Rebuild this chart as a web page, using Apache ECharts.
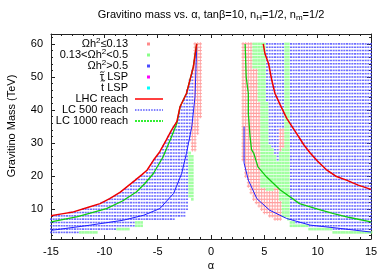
<!DOCTYPE html>
<html><head><meta charset="utf-8">
<script src="https://cdn.jsdelivr.net/npm/echarts@6/dist/echarts.min.js"></script>
<style>html,body{margin:0;padding:0;background:#fff}#c{width:389px;height:273px}</style>
</head><body><div id="c"></div>
<script>
// ---- data ----
// Scan columns: [alpha, mLow, mHigh] (grid cells at 1 TeV steps)
const blueLeft = [[-15,3,7],[-14.75,3,8],[-14.5,3,8],[-14.25,3,8],[-14,3,8],[-13.75,3,8],[-13.5,3,8],[-13.25,3,9],[-13,3,9],[-12.75,3,9],[-12.5,3,9],[-12.25,4,9],[-12,4,10],[-11.75,4,10],[-11.5,4,10],[-11.25,4,10],[-11,4,11],[-10.75,4,11],[-10.5,4,11],[-10.25,4,12],[-10,4,12],[-9.75,4,12],[-9.5,4,13],[-9.25,4,13],[-9,4,14],[-8.75,5,14],[-8.5,5,15],[-8.25,5,15],[-8,5,16],[-7.75,5,16],[-7.5,5,17],[-7.25,5,18],[-7,7,19],[-6.75,7,19],[-6.5,7,20],[-6.25,7,20],[-6,7,21],[-5.75,7,22],[-5.5,7,24],[-5.25,7,25],[-5,7,26],[-4.75,7,27],[-4.5,7,29],[-4.25,7,30],[-4,7,32],[-3.75,7,33],[-3.5,7,35],[-3.25,8,36],[-3,8,39],[-2.75,8,41],[-2.5,8,43],[-2.25,10,46],[-2,31,49],[-1.75,37,52]];
const greenLeft = [[-12.25,3,3],[-12,3,3],[-11.75,3,3],[-11.5,3,3],[-11.25,3,3],[-11,3,3],[-10.75,3,3],[-8.75,4,4],[-8.5,4,4],[-8.25,4,4],[-8,4,4],[-7.75,4,4],[-7,5,6],[-6.75,5,6],[-6.5,5,6],[-2,14,27],[-1.75,13,26]];
const redLeft = [[-1.75,28,36],[-1.5,28,60],[-1.25,33,60],[-1,38,60]];
const redRight = [[3,25,60],[3.25,20,60],[3.5,17,60],[3.75,15,60],[4,13,52],[4.25,12,52],[4.5,11,42],[4.75,10,16],[5,9,16],[5.25,9,15],[5.5,8,15],[5.75,8,15],[6,7,16],[6.25,7,16],[6.5,7,12],[6.5,28,34],[6.75,29,34]];
const greenRight = [[4,53,60],[4.25,53,60],[4.5,43,60],[4.75,17,60],[5,17,60],[5.25,16,42],[5.5,16,29],[5.75,16,28],[6,17,26],[6.25,17,24],[6.5,13,27],[6.75,8,28],[7,8,60],[7.25,7,60],[7.5,5,6],[7.75,5,6],[8,5,5],[8.25,5,5],[8.5,5,5],[8.75,5,5],[9,5,5],[9.25,4,4],[9.5,4,4],[9.75,4,4],[10,4,4],[10.25,4,4],[10.5,4,4],[10.75,4,4],[11,4,4],[11.25,4,4],[11.5,3,3],[11.75,3,3],[12,3,3],[12.25,3,3],[12.5,3,3],[12.75,3,3],[13,3,3],[13.25,3,3],[13.5,3,3],[13.75,3,3],[14,3,3],[14.25,3,3],[14.5,3,3],[14.75,3,3],[15,3,3]];
const blueRight = [[5.25,43,60],[5.5,30,60],[5.75,29,60],[6,27,60],[6.25,25,60],[6.5,35,60],[6.75,35,60],[7.5,7,60],[7.75,7,60],[8,6,60],[8.25,6,60],[8.5,6,60],[8.75,6,60],[9,6,60],[9.25,5,60],[9.5,5,60],[9.75,5,60],[10,5,60],[10.25,5,60],[10.5,5,60],[10.75,5,60],[11,5,60],[11.25,5,60],[11.5,4,60],[11.75,4,60],[12,4,60],[12.25,4,60],[12.5,4,60],[12.75,4,60],[13,4,60],[13.25,4,60],[13.5,4,60],[13.75,4,60],[14,4,60],[14.25,4,60],[14.5,4,60],[14.75,4,60],[15,4,60]];

// Reach curves: [alpha, m]
const lhcLeft = [[-15,8],[-14,8.6],[-12.9,9.2],[-11.5,10.6],[-10.4,11.7],[-9.5,13.2],[-8.5,15.2],[-7.8,17],[-7.1,18.8],[-6.5,20.4],[-6,21.8],[-5.4,24.8],[-4.8,27.4],[-4.2,30.9],[-3.7,33.9],[-3.2,36.5],[-2.9,41],[-2.3,45],[-1.66,53],[-1.34,60]];
const lc1000Left = [[-15,6.2],[-12.5,7.8],[-9.8,10.2],[-8.3,12.5],[-7,15.2],[-6.2,17.8],[-5.4,20.8],[-4.5,25.8],[-3.7,31.9],[-3.2,36],[-2.9,41],[-2.3,45],[-1.66,53],[-1.34,60]];
const lc500Left = [[-15,3.6],[-11.3,5.2],[-8.2,6.7],[-6.3,8.2],[-4.8,10.2],[-3.5,14.8],[-2.75,20.8],[-2.3,26.9],[-1.8,35],[-1.5,44],[-1.34,59]];
const lhcRight = [[4.9,60],[5.06,57],[5.4,54],[5.7,49],[6,45],[6.5,41.5],[7.1,37.5],[8,33],[8.7,29.5],[9.3,27],[10,24.5],[10.8,22],[11.7,20],[12.7,18.8],[13.8,17.3],[15,16]];
const lc1000Right = [[3.2,60],[3.3,50],[3.5,45],[3.5,39],[3.66,32],[3.8,28],[4,27],[4.4,22.8],[5.2,19.8],[6.5,15.8],[8.3,11.7],[10,10],[11.5,8.7],[13,7.5],[15,6.2]];
const lc500Right = [[3.1,35],[3.1,24],[3.5,18.8],[4.3,13.2],[5.5,9.7],[7.1,7.2],[9.3,5.2],[12.1,4.2],[15,3.1]];

const xTicks = [-15,-10,-5,0,5,10,15];
const yTicks = [10,20,30,40,50,60];
const yMinorTicks = [2,4,6,8,12,14,16,18,22,24,26,28,32,34,36,38,42,44,46,48,52,54,56,58,62];
const legendLabels = ['Ωh{sup|2}≤0.13','0.13<Ωh{sup|2}<0.5','Ωh{sup|2}>0.5','τ LSP','t LSP','LHC reach','LC 500 reach','LC 1000 reach'];

// ---- build ----
function cells(cols){const p=[];cols.forEach(c=>{for(let m=c[1];m<=c[2];m++)p.push([c[0],m]);});return p;}
const FONT='Liberation Sans, Arial, sans-serif';
const C_RED='#ff8a8a', C_GREEN='#88ff88', C_BLUE='#4a4aff';
const cross='path://M1,0H2V1H3V2H2V3H1V2H0V1H1Z';

const mctx=document.createElement('canvas').getContext('2d');
mctx.font='11px '+FONT;
const tw=s=>mctx.measureText(s).width;

const chart=echarts.init(document.getElementById('c'),null,{renderer:'canvas'});
const xa=(pos,lab)=>({type:'value',position:pos,min:-15,max:15,interval:5,
  axisLine:{onZero:false,lineStyle:{color:'#222',width:1}},
  axisTick:{inside:true,length:4,lineStyle:{color:'#222'}},
  minorTick:{show:true,splitNumber:5,length:2,lineStyle:{color:'#222'}},
  splitLine:{show:false},
  axisLabel:{show:lab,fontSize:11,color:'#000',margin:7,fontFamily:FONT}});
const ya=(pos,vals,len,lab,line)=>({type:'value',position:pos,min:1,max:63,
  axisLine:{show:line,onZero:false,lineStyle:{color:'#222',width:1}},
  axisTick:{show:true,inside:true,length:len,customValues:vals,lineStyle:{color:'#222'}},
  splitLine:{show:false},
  axisLabel:{show:lab,customValues:vals,fontSize:11,color:'#000',margin:8,fontFamily:FONT}});

function dots(name,data,color,sym,size){return {type:'scatter',name,data,symbol:sym,symbolSize:size,itemStyle:{color},silent:true,animation:false,large:false};}
function curve(name,data,color,type,width){return {type:'line',name,data,showSymbol:false,lineStyle:{color,type,width},silent:true,animation:false,z:5};}

const legendG=[];
const rowY=[44,55,66,77,88,99,110,121];
const rich={sup:{fontSize:8,verticalAlign:'top',padding:[0,0,6,0],fontFamily:FONT,fill:'#000'}};
legendLabels.forEach((t,i)=>{
  legendG.push({type:'text',x:128,y:rowY[i],style:{text:t,rich,font:'11px '+FONT,fill:'#000',align:'right',verticalAlign:'middle'}});
});
// tildes over τ and t
[[3,'τ',-5],[4,'t',-7.2]].forEach(([i,ch,dy])=>{
  const cx=128-tw(legendLabels[i])+tw(ch)/2+0.3;
  const y=rowY[i]+dy;
  legendG.push({type:'bezierCurve',shape:{x1:cx-2.2,y1:y+0.6,cpx1:cx-1,cpy1:y-1.6,cpx2:cx+1,cpy2:y+1.6,x2:cx+2.2,y2:y-0.6},style:{stroke:'#000',lineWidth:0.9,fill:null}});
});
const dotCols=[C_RED,C_GREEN,C_BLUE,'#ff00ff','#00ffff'];
dotCols.forEach((c,i)=>legendG.push({type:'rect',shape:{x:147,y:rowY[i]-1.5,width:3,height:3},style:{fill:c}}));
legendG.push({type:'line',shape:{x1:135,y1:99,x2:163,y2:99},style:{stroke:'#ff0000',lineWidth:1.5}});
legendG.push({type:'line',shape:{x1:135,y1:110,x2:163,y2:110},style:{stroke:'#0000ff',lineWidth:1.2,lineDash:[1.5,1.2]}});
legendG.push({type:'line',shape:{x1:135,y1:121,x2:163,y2:121},style:{stroke:'#33ee33',lineWidth:2,lineDash:[2,1]}});

chart.setOption({
  animation:false,
  backgroundColor:'#fff',
  grid:{left:51,right:18,top:34,bottom:34},
  xAxis:[xa('bottom',true),xa('top',false)],
  yAxis:[ya('left',yTicks,4,true,true),ya('right',yTicks,4,false,true),ya('left',yMinorTicks,2,false,false),ya('right',yMinorTicks,2,false,false)],
  series:[
    dots('Ωh²>0.5',cells(blueLeft).concat(cells(blueRight)),C_BLUE,'rect',[2,1.6]),
    dots('Ωh²≤0.13',cells(redLeft).concat(cells(redRight)),C_RED,cross,[3,3.3]),
    dots('0.13<Ωh²<0.5',cells(greenLeft).concat(cells(greenRight)),C_GREEN,'rect',[2.6,2.6]),
    curve('LC 500 reach',lc500Left,'#2020ff','solid',1),
    curve('LC 500 reach',lc500Right,'#2020ff','solid',1),
    curve('LC 1000 reach',lc1000Left,'#10cc10','solid',1.3),
    curve('LC 1000 reach',lc1000Right,'#10cc10','solid',1.3),
    curve('LHC reach',lhcLeft,'#ee0000','solid',1.5),
    curve('LHC reach',lhcRight,'#ee0000','solid',1.5)
  ],
  graphic:[
    {type:'text',x:211,y:15,style:{text:'Gravitino mass vs. α, tanβ=10, n{sub|H}=1/2, n{sub|m}=1/2',rich:{sub:{fontSize:8,verticalAlign:'bottom',padding:[6,0,0,0],fontFamily:FONT}},font:'11px '+FONT,fill:'#000',align:'center',verticalAlign:'middle'}},
    {type:'text',x:12,y:126,rotation:Math.PI/2,style:{text:'Gravitino Mass (TeV)',font:'11px '+FONT,fill:'#000',align:'center',verticalAlign:'middle'}},
    {type:'text',x:211,y:266,style:{text:'α',font:'11px '+FONT,fill:'#000',align:'center',verticalAlign:'middle'}},
    {type:'group',children:legendG}
  ]
});
</script></body></html>
